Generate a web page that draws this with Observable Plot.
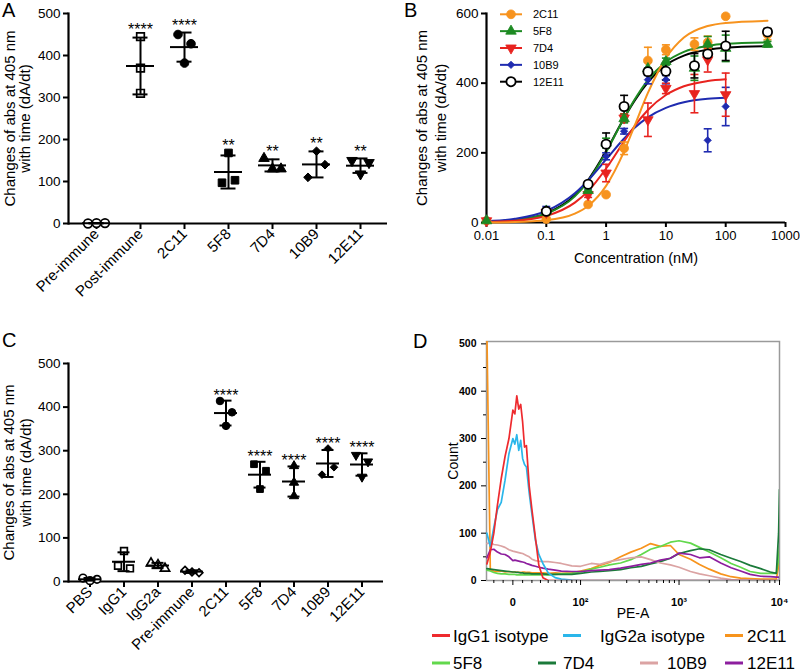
<!DOCTYPE html>
<html>
<head>
<meta charset="utf-8">
<script src="https://cdn.jsdelivr.net/npm/d3@7"></script>
<script src="https://cdn.jsdelivr.net/npm/@observablehq/plot@0.6"></script>
<style>
  html, body { margin: 0; padding: 0; background: #fff; }
  #fig { position: relative; width: 800px; height: 672px; overflow: hidden; background: #fff; }
  .pane { position: absolute; }
  .pane svg { display: block; }
</style>
</head>
<body>
<div id="fig">
  <div class="pane" id="pA" style="left:0px;top:0px"></div>
  <div class="pane" id="pB" style="left:400px;top:0px"></div>
  <div class="pane" id="pC" style="left:0px;top:330px"></div>
  <div class="pane" id="pD" style="left:400px;top:330px"></div>
</div>
<script>
const FONT = '"Liberation Sans", Arial, Helvetica, sans-serif';
const Y_TITLE_1 = "Changes of abs at 405 nm";
const Y_TITLE_2 = "with time (dA/dt)";

// ================= Panel A data =================
const A_groups = ["Pre-immune", "Post-immune", "2C11", "5F8", "7D4", "10B9", "12E11"];
const A_values = [[0, 1, 1], [445, 370, 310], [450, 428, 382], [168, 97, 103], [155, 130, 130], [110, 172, 140], [150, 118, 145]];
const A_stars = ["", "****", "****", "**", "**", "**", "**"];
const A_yTicks = [0, 100, 200, 300, 400, 500];

// ================= Panel B data =================
const B_names = ["2C11", "5F8", "7D4", "10B9", "12E11"];
const B_conc = [0.01, 0.1, 0.5, 1, 2, 5, 10, 30, 50, 100, 500];
const B_2C11_mean  = [5, 10, 52, 80, 213, 465, 496, 512, 517, 592, 540];
const B_2C11_sd    = [0, 0, 0, 0, 18, 38, 14, 18, 18, 0, 15];
const B_5F8_mean   = [5, 33, 92, 228, 298, 442, 462, 443, 512, 500, 512];
const B_5F8_sd     = [0, 5, 8, 14, 12, 18, 10, 35, 22, 38, 8];
const B_7D4_mean   = [5, 29, 80, 142, 300, 295, 385, 370, 467, 367, null];
const B_7D4_sd     = [0, 4, 8, 25, 12, 48, 15, 55, 35, 62, null];
const B_10B9_mean  = [10, 38, 96, 190, 262, 410, 410, null, 236, 333, null];
const B_10B9_sd    = [0, 8, 8, 10, 8, 12, 12, null, 33, 55, null];
const B_12E11_mean = [null, 32, 110, 225, 333, 433, 434, 450, 484, 507, 547];
const B_12E11_sd   = [null, 5, 5, 32, 32, 10, 25, 35, 10, 42, 10];
// fitted curves
const B_fitConc   = [0.01, 0.03, 0.1, 0.3, 0.5, 1, 2, 3, 5, 10, 20, 50, 100, 500];
const B_2C11_fit  = [0.3, 1.3, 6.4, 25.5, 47.6, 105, 204, 278, 372, 472, 531, 564, 573, 579];
const B_5F8_fit   = [2.1, 6.9, 25, 75, 119, 202, 300, 353, 409, 461, 490, 507, 513, 517];
const B_7D4_fit   = [1.6, 5.2, 18.8, 57, 90, 155, 233, 277, 323, 366, 391, 406, 411];
const B_10B9_fit  = [3.6, 10.5, 33, 84, 121, 181, 241, 272, 302, 329, 345, 355, 358];
const B_12E11_fit = [2, 7, 26, 78, 122, 205, 300, 350, 402, 452, 479, 496, 502, 506];
const B_xTicks = [0.01, 0.1, 1, 10, 100, 1000];
const B_yTicks = [0, 200, 400, 600];

// ================= Panel C data =================
const C_groups = ["PBS", "IgG1", "IgG2a", "Pre-immune", "2C11", "5F8", "7D4", "10B9", "12E11"];
const C_values = [[8, 2, 5], [70, 36, 30], [42, 38, 30], [26, 22, 20], [414, 388, 357], [269, 254, 212], [265, 227, 196], [305, 245, 262], [290, 275, 240]];
const C_stars = ["", "", "", "", "****", "****", "****", "****", "****"];
const C_yTicks = [0, 100, 200, 300, 400, 500];

// ================= Panel D data =================
const D_names = ["IgG1 isotype", "IgG2a isotype", "2C11", "5F8", "7D4", "10B9", "12E11"];
const D_pe = [-28, -24, -20, -16, -12, -8, -4,
  0, 2, 4, 6, 8, 10, 12, 14,
  17, 20, 24, 28, 33, 40, 50, 60, 80,
  100, 130, 160, 200, 260, 330, 420, 520, 650, 820,
  1000, 1300, 1600, 2000, 2600, 3300, 4100, 5100, 6500, 8100,
  9300, 9800, 10000];
const D_IgG1 = [35, 60, 100, 160, 215, 262, 300,
  360, 352, 390, 362, 372, 335, 282, 285,
  200, 150, 90, 32, 6, 0, 0, 0, 0,
  0, 0, 0, 0, 0, 0, 0, 0, 0, 0,
  0, 0, 0, 0, 0, 0, 0, 0, 0, 0,
  0, 0, 0];
const D_IgG2a = [100, 72, 112, 150, 165, 212, 268,
  300, 288, 308, 275, 296, 258, 245, 240,
  185, 140, 85, 55, 36, 16, 6, 3, 1,
  0, 0, 0, 0, 0, 0, 0, 0, 0, 0,
  0, 0, 0, 0, 0, 0, 0, 0, 0, 0,
  0, 0, 0];
const D_2C11 = [520, 22, 20, 19, 20, 18, 19,
  18, 18, 18, 17, 17, 18, 18, 17,
  17, 16, 16, 16, 16, 15, 16, 15, 16,
  20, 25, 32, 38, 50, 60, 68, 78, 72, 74,
  55, 45, 34, 24, 14, 8, 5, 4, 3, 3,
  3, 30, 62];
const D_5F8 = [22, 20, 17, 15, 14, 14, 13,
  13, 13, 12, 12, 12, 12, 12, 12,
  12, 12, 12, 12, 12, 12, 13, 14, 15,
  18, 24, 28, 33, 37, 44, 55, 66, 72, 81,
  84, 79, 70, 60, 48, 36, 28, 19, 15, 15,
  15, 45, 73];
const D_7D4 = [25, 24, 23, 22, 21, 20, 19,
  18, 18, 17, 17, 16, 16, 15, 15,
  15, 14, 14, 14, 14, 13, 13, 13, 13,
  15, 18, 19, 21, 23, 27, 30, 35, 40, 47,
  57, 63, 67, 65, 55, 47, 40, 32, 25, 18,
  15, 100, 192];
const D_10B9 = [78, 80, 76, 75, 73, 70, 65,
  62, 61, 60, 59, 58, 57, 55, 53,
  50, 45, 42, 41, 40, 40, 38, 36, 31,
  30, 36, 34, 40, 44, 48, 50, 44, 37, 33,
  28, 19, 14, 10, 5, 2, 1, 1, 0, 0,
  0, 0, 0];
const D_12E11 = [48, 65, 66, 60, 56, 55, 50,
  42, 43, 42, 41, 40, 39, 38, 36,
  34, 32, 30, 28, 26, 24, 22, 20, 19,
  19, 21, 22, 23, 26, 30, 34, 37, 43, 47,
  58, 55, 48, 50, 37, 27, 20, 13, 9, 8,
  7, 7, 5];
const D_yTicks = [0, 100, 200, 300, 400, 500];
const D_xMajor = [0, 100, 1000, 10000];
const D_xMajorLabels = ["0", "10\u00B2", "10\u00B3", "10\u2074"];
const D_xMinor = [-20, -10, 10, 20, 30, 40, 50, 60, 70, 80, 90, 200, 300, 400, 500, 600, 700, 800, 900,
  2000, 3000, 4000, 5000, 6000, 7000, 8000, 9000];
const D_yMinor = [50, 150, 250, 350, 450];

// ================= helpers =================
const triDown = {
  draw(ctx, size) {
    const s3 = Math.sqrt(3);
    const y = -Math.sqrt(size / (s3 * 3));
    ctx.moveTo(0, -y * 2);
    ctx.lineTo(-s3 * y, y);
    ctx.lineTo(s3 * y, y);
    ctx.closePath();
  }
};
const capLine = { draw(ctx) { ctx.moveTo(-4, 0); ctx.lineTo(4, 0); } };

const baseStyle = {fontFamily: FONT, fontSize: "13.5px", color: "#000", background: "transparent", overflow: "visible"};

function yTitles(dx1, dx2) {
  return [
    Plot.text([Y_TITLE_1], {frameAnchor: "left", textAnchor: "middle", lineAnchor: "middle", rotate: -90, dx: dx1, fontSize: 15}),
    Plot.text([Y_TITLE_2], {frameAnchor: "left", textAnchor: "middle", lineAnchor: "middle", rotate: -90, dx: dx2, fontSize: 15})
  ];
}

function clusterOffsets(vals, k, thresh, s2, s3) {
  const n = vals.length;
  const idx = d3.range(n).sort((a, b) => vals[a] - vals[b]);
  const chains = [];
  let cur = [idx[0]];
  for (let j = 1; j < n; j++) {
    if ((vals[idx[j]] - vals[idx[j - 1]]) * k < thresh) cur.push(idx[j]);
    else { chains.push(cur); cur = [idx[j]]; }
  }
  chains.push(cur);
  const off = new Array(n).fill(0);
  for (const c of chains) {
    c.sort((a, b) => a - b);
    const m = c.length;
    const step = m === 2 ? s2 : s3;
    c.forEach((i, j) => { off[i] = (j - (m - 1) / 2) * step; });
  }
  return off;
}

function scatterMarks(groups, values, style, k, thresh, s2, s3, scale) {
  const marks = [];
  groups.forEach((g, gi) => {
    const vals = values[gi];
    const offs = clusterOffsets(vals, k, thresh, s2, s3);
    const [sym, open] = style[g];
    const r = (sym === "circle" || sym === "square" ? 4.3 : 3.9) * scale;
    vals.forEach((v, i) => {
      marks.push(Plot.dot([{g, v}], {
        x: "g", y: "v", dx: offs[i], symbol: sym, r,
        fill: open ? "white" : "black", stroke: "black", strokeWidth: open ? 1.7 : 1
      }));
    });
  });
  return marks;
}

function stats(groups, values, stars) {
  return groups.map((g, i) => {
    const v = values[i];
    const m = d3.mean(v), s = d3.deviation(v);
    return {g, mean: m, lo: m - s, hi: m + s, top: Math.max(m + s, d3.max(v)), star: stars[i]};
  });
}

// ================= Panel A =================
{
  const H = 330, mt = 13, mb = 107;
  const k = (H - mt - mb) / 500;
  const A_style = {
    "Pre-immune": ["circle", true], "Post-immune": ["square", true], "2C11": ["circle", false],
    "5F8": ["square", false], "7D4": ["triangle", false], "10B9": ["diamond2", false], "12E11": [triDown, false]
  };
  const st = stats(A_groups, A_values, A_stars);
  const plot = Plot.plot({
    width: 400, height: H, marginLeft: 68, marginRight: 13, marginTop: mt, marginBottom: mb,
    style: baseStyle,
    x: {type: "band", domain: A_groups, paddingInner: 0.374, paddingOuter: 0.255},
    y: {domain: [0, 500]},
    marks: [
      Plot.axisY({ticks: A_yTicks, tickSize: 5, tickPadding: 3, strokeWidth: 2, label: null}),
      Plot.axisX({tickSize: 6, tickPadding: 2, tickRotate: -45, textAnchor: "end", lineAnchor: "middle", fontSize: 15, strokeWidth: 2, label: null}),
      Plot.ruleY([0], {strokeWidth: 2.2}),
      Plot.frame({anchor: "left", strokeWidth: 2.2}),
      ...yTitles(-58.5, -43.5),
      ...scatterMarks(A_groups, A_values, A_style, k, 14, 13, 8.5, 1),
      Plot.ruleX(st, {x: "g", y1: "lo", y2: "hi", strokeWidth: 2}),
      Plot.tickY(st, {x: "g", y: "mean", strokeWidth: 2}),
      Plot.tickY(st, {x: "g", y: "lo", strokeWidth: 2, insetLeft: 6.5, insetRight: 6.5}),
      Plot.tickY(st, {x: "g", y: "hi", strokeWidth: 2, insetLeft: 6.5, insetRight: 6.5}),
      Plot.text(st, {x: "g", y: "top", text: "star", dy: -7, fontSize: 16})
    ]
  });
  document.getElementById("pA").append(plot);
}

// ================= Panel B =================
const B_style = {
  "2C11":  {color: "#f7931e", symbol: "circle",   open: false, r: 4.4},
  "5F8":   {color: "#1d8a22", symbol: "triangle", open: false, r: 3.9},
  "7D4":   {color: "#e8231f", symbol: triDown,    open: false, r: 3.9},
  "10B9":  {color: "#1f2bb0", symbol: "diamond2", open: false, r: 3.3},
  "12E11": {color: "#000000", symbol: "circle",   open: true,  r: 4.6}
};
{
  const series = {
    "2C11": [B_2C11_mean, B_2C11_sd, B_2C11_fit],
    "5F8": [B_5F8_mean, B_5F8_sd, B_5F8_fit],
    "7D4": [B_7D4_mean, B_7D4_sd, B_7D4_fit],
    "10B9": [B_10B9_mean, B_10B9_sd, B_10B9_fit],
    "12E11": [B_12E11_mean, B_12E11_sd, B_12E11_fit]
  };
  const rows = n => B_conc.map((c, i) => ({c, m: series[n][0][i], s: series[n][1][i]})).filter(d => d.m != null);
  const fitRows = n => series[n][2].map((v, i) => ({c: B_fitConc[i], v}));
  const curveOrder = ["12E11", "5F8", "10B9", "7D4", "2C11"];
  const pointOrder = ["2C11", "10B9", "7D4", "5F8", "12E11"];
  const marks = [
    Plot.axisY({ticks: B_yTicks, tickSize: 5, tickPadding: 3, strokeWidth: 2, label: null}),
    Plot.axisX({ticks: B_xTicks, tickFormat: d => String(d), tickSize: 5, tickPadding: 3, strokeWidth: 2, fontSize: 13, label: null}),
    Plot.ruleY([0], {strokeWidth: 2.2}),
    Plot.frame({anchor: "left", strokeWidth: 2.2}),
    ...yTitles(-64, -45),
    Plot.text(["Concentration (nM)"], {frameAnchor: "bottom", lineAnchor: "middle", dy: 36, fontSize: 14.5})
  ];
  for (const n of curveOrder) {
    marks.push(Plot.line(fitRows(n), {x: "c", y: "v", stroke: B_style[n].color, strokeWidth: 2, curve: "monotone-x"}));
  }
  for (const n of pointOrder) {
    const col = B_style[n].color;
    const eb = rows(n).filter(d => d.s > 0);
    marks.push(Plot.ruleX(eb, {x: "c", y1: d => d.m - d.s, y2: d => d.m + d.s, stroke: col, strokeWidth: 1.6}));
    marks.push(Plot.dot(eb, {x: "c", y: d => d.m + d.s, symbol: capLine, fill: "none", stroke: col, strokeWidth: 1.6}));
    marks.push(Plot.dot(eb, {x: "c", y: d => d.m - d.s, symbol: capLine, fill: "none", stroke: col, strokeWidth: 1.6}));
  }
  for (const n of pointOrder) {
    const s = B_style[n];
    marks.push(Plot.dot(rows(n), {
      x: "c", y: "m", symbol: s.symbol, r: s.r,
      fill: s.open ? "white" : s.color, stroke: s.color, strokeWidth: s.open ? 1.8 : 0.8
    }));
  }
  const plot = Plot.plot({
    width: 400, height: 330, marginLeft: 86, marginRight: 15, marginTop: 13, marginBottom: 108,
    style: baseStyle,
    x: {type: "log", domain: [0.01, 1000]},
    y: {domain: [0, 600]},
    marks
  });
  document.getElementById("pB").append(plot);
}

// ================= Panel C =================
{
  const H = 342, mt = 33, mb = 91;
  const k = (H - mt - mb) / 500;
  const C_style = {
    "PBS": ["circle", true], "IgG1": ["square", true], "IgG2a": ["triangle", true], "Pre-immune": ["diamond2", true],
    "2C11": ["circle", false], "5F8": ["square", false], "7D4": ["triangle", false], "10B9": ["diamond2", false], "12E11": [triDown, false]
  };
  const st = stats(C_groups, C_values, C_stars);
  const plot = Plot.plot({
    width: 400, height: H, marginLeft: 68, marginRight: 17, marginTop: mt, marginBottom: mb,
    style: baseStyle,
    x: {type: "band", domain: C_groups, paddingInner: 0.325, paddingOuter: 0.28},
    y: {domain: [0, 500]},
    marks: [
      Plot.axisY({ticks: C_yTicks, tickSize: 5, tickPadding: 3, strokeWidth: 2, label: null}),
      Plot.axisX({tickSize: 6, tickPadding: 2, tickRotate: -45, textAnchor: "end", lineAnchor: "middle", fontSize: 15, strokeWidth: 2, label: null}),
      Plot.ruleY([0], {strokeWidth: 2.2}),
      Plot.frame({anchor: "left", strokeWidth: 2.2}),
      ...yTitles(-59, -42),
      ...scatterMarks(C_groups, C_values, C_style, k, 12, 12, 7, 0.88),
      Plot.ruleX(st, {x: "g", y1: "lo", y2: "hi", strokeWidth: 2}),
      Plot.tickY(st, {x: "g", y: "mean", strokeWidth: 2}),
      Plot.tickY(st, {x: "g", y: "lo", strokeWidth: 2, insetLeft: 5.5, insetRight: 5.5}),
      Plot.tickY(st, {x: "g", y: "hi", strokeWidth: 2, insetLeft: 5.5, insetRight: 5.5}),
      Plot.text(st, {x: "g", y: "top", text: "star", dy: -5, fontSize: 16})
    ]
  });
  document.getElementById("pC").append(plot);
}

// ================= Panel D =================
const D_colors = {
  "IgG1 isotype": "#ee2a2e", "IgG2a isotype": "#2ab6ea", "2C11": "#f7941d", "5F8": "#62d84c",
  "7D4": "#1b7a3a", "10B9": "#dba3a3", "12E11": "#8d1e9e"
};
{
  const W = 44.4;
  const T = v => Math.asinh(v / W);
  const counts = {
    "IgG1 isotype": D_IgG1, "IgG2a isotype": D_IgG2a, "2C11": D_2C11, "5F8": D_5F8,
    "7D4": D_7D4, "10B9": D_10B9, "12E11": D_12E11
  };
  const order = ["2C11", "5F8", "7D4", "10B9", "12E11", "IgG2a isotype", "IgG1 isotype"];
  const marks = [
    Plot.frame({stroke: "#9a9a9a", strokeWidth: 1.5}),
    Plot.axisY({ticks: D_yMinor, tickSize: 3, tickFormat: () => "", label: null}),
    Plot.axisY({ticks: D_yTicks, tickSize: 5, tickPadding: 5, fontWeight: "bold", fontSize: 10.5, label: null}),
    Plot.axisX({ticks: D_xMinor.map(T), tickSize: 3, tickFormat: () => "", label: null}),
    Plot.axisX({ticks: D_xMajor.map(T), tickSize: 5, tickFormat: () => "", label: null}),
    Plot.text(["Count"], {frameAnchor: "left", textAnchor: "middle", lineAnchor: "middle", rotate: -90, dx: -33, fontSize: 14}),
    Plot.text(["PE-A"], {frameAnchor: "bottom", textAnchor: "middle", lineAnchor: "middle", dy: 33, fontSize: 14})
  ];
  for (const n of order) {
    const arr = counts[n];
    marks.push(Plot.line(D_pe, {x: d => T(d), y: (d, i) => arr[i], stroke: D_colors[n], strokeWidth: 1.7, clip: true}));
  }
  // tick labels last so nothing paints over them
  marks.push(Plot.text(D_xMajor, {x: d => T(d), text: (d, i) => D_xMajorLabels[i], frameAnchor: "bottom",
    textAnchor: "middle", lineAnchor: "middle", dy: 22, fontWeight: "bold", fontSize: 11, fill: "#000"}));
  const plot = Plot.plot({
    width: 400, height: 342, marginLeft: 86, marginRight: 21, marginTop: 11, marginBottom: 92,
    style: baseStyle,
    x: {type: "linear", domain: [T(-28.5), T(10000)]},
    y: {domain: [0, 505]},
    marks
  });
  document.getElementById("pD").append(plot);
}

// ================= Overlay: panel letters and legends =================
{
  const ov = d3.select("#fig").append("svg")
    .attr("width", 800).attr("height", 672)
    .style("position", "absolute").style("left", "0px").style("top", "0px")
    .style("pointer-events", "none")
    .attr("font-family", FONT);
  [["A", 2, 17], ["B", 404, 17], ["C", 2, 347], ["D", 413, 348]].forEach(([t, x, y]) =>
    ov.append("text").attr("x", x).attr("y", y).attr("font-size", 20).text(t));

  // legend of panel B
  const symType = {circle: d3.symbolCircle, triangle: d3.symbolTriangle, diamond2: d3.symbolDiamond2};
  B_names.forEach((n, i) => {
    const s = B_style[n];
    const y = 14.3 + i * 16.85;
    ov.append("line").attr("x1", 500).attr("x2", 522).attr("y1", y).attr("y2", y)
      .attr("stroke", s.color).attr("stroke-width", 2);
    const type = typeof s.symbol === "string" ? symType[s.symbol] : s.symbol;
    ov.append("path").attr("d", d3.symbol(type, Math.PI * s.r * s.r)())
      .attr("transform", `translate(511,${y})`)
      .attr("fill", s.open ? "white" : s.color).attr("stroke", s.color).attr("stroke-width", s.open ? 1.8 : 0.8);
    ov.append("text").attr("x", 533).attr("y", y + 4).attr("font-size", 11).text(n);
  });

  // legend of panel D
  const slots = [[432, 453, 641.5], [563, 600, 641.5], [725, 747, 641.5],
                 [432, 453, 669], [538, 563, 669], [640, 667, 669], [725, 747, 669]];
  D_names.forEach((n, i) => {
    const [lx, tx, by] = slots[i];
    ov.append("line").attr("x1", lx).attr("x2", lx + 18).attr("y1", by - 6).attr("y2", by - 6)
      .attr("stroke", D_colors[n]).attr("stroke-width", 3);
    ov.append("text").attr("x", tx).attr("y", by).attr("font-size", 17).text(n);
  });
}
</script>
</body>
</html>
